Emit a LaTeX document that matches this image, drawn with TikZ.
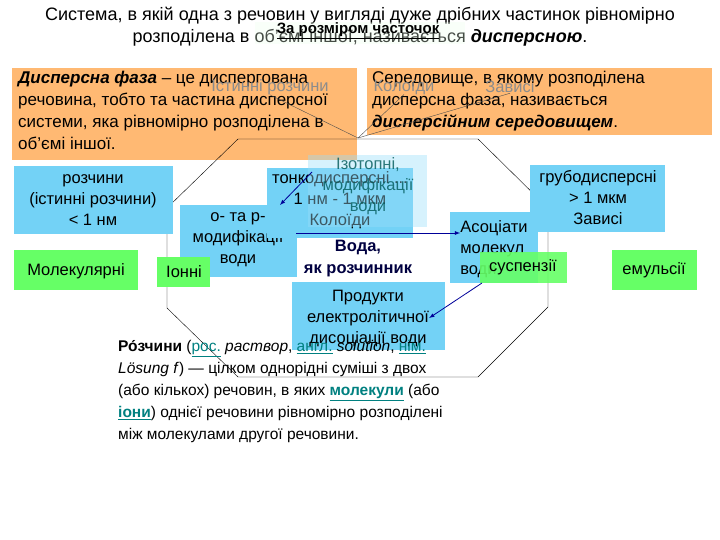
\documentclass[tikz,border=0pt]{standalone}
\usepackage{fontspec}
\setmainfont{Liberation Sans}
\begin{document}
\begin{tikzpicture}[x=1pt,y=-1pt,
  cyanbox/.style={fill=cyan!55!white, inner sep=0pt, draw=none},
  greenbox/.style={fill=green!60!white, inner sep=0pt, draw=none},
  txt/.style={font=\fontsize{16.5}{21}\selectfont, align=center, inner sep=0pt},
  arr/.style={-latex, draw=blue!60!black, thick},
  lnk/.style={draw=black!70, thin}]
\useasboundingbox (0,0) rectangle (720,540);
% title
\node[txt, font=\fontsize{18}{22}\selectfont] (t1) at (360,16) {Система, в якій одна з речовин у вигляді дуже дрібних частинок рівномірно};
\node[txt, font=\fontsize{18}{22}\selectfont] (t2) at (360,38) {розподілена в об'ємі іншої, називається \textbf{\textit{дисперсною}}.};
\fill[green!8, opacity=0.3] (255,22) rectangle (465,44);
\node[txt, font=\bfseries\fontsize{15}{16}\selectfont] (zr) at (358,31) {\underline{За розміром часточок}};
% orange boxes
\fill[orange!55!white] (12,68) rectangle (357,160);
\fill[orange!55!white] (367,68) rectangle (712,135);
\node[txt, anchor=north west, align=left, font=\fontsize{17}{22}\selectfont] (df) at (18,71) {\textbf{\textit{Дисперсна фаза}} – це диспергована\\речовина, тобто та частина дисперсної\\системи, яка рівномірно розподілена в\\об'ємі іншої.};
\node[txt, anchor=north west, align=left, font=\fontsize{17}{22}\selectfont] (ds) at (372,71) {Середовище, в якому розподілена\\дисперсна фаза, називається\\\textbf{\textit{дисперсійним середовищем}}.};
% faded labels
\node[txt, text=black!45] (ir) at (270,87) {Істинні розчини};
\node[txt, text=black!45] (kl) at (404,87) {Колоїди};
\node[txt, text=black!45] (zv) at (510,87) {Зависі};
\coordinate (hub) at (358,138);
\draw[lnk] (ir.south) -- (hub);
\draw[lnk] (kl.south) -- (hub);
\draw[lnk] (zv.south) -- (hub);
% octagon
\draw[black, thin] (238,139) -- (478,139) -- (548,208) -- (548,307) -- (478,377) -- (238,377) -- (167,308) -- (167,208) -- cycle;
% boxes
\fill[cyanbox] (14,166) rectangle (173,234);
\node[txt] (rs) at (93,200) {розчини\\(істинні розчини)\\< 1 нм};
\fill[cyanbox] (530,165) rectangle (665,232);
\node[txt] (gr) at (598,198) {грубодисперсні\\> 1 мкм\\Зависі};
\fill[greenbox] (14,250) rectangle (138,290);
\node[txt] (ml) at (76,271) {Молекулярні};
\fill[greenbox] (612,250) rectangle (697,290);
\node[txt] (em) at (654,270) {емульсії};
\fill[cyanbox] (180,205) rectangle (297,277);
\node[txt] (op) at (238,240) {о- та р-\\модифікації\\води};
\fill[greenbox] (157,257) rectangle (210,287);
\node[txt] (io) at (184,272) {Іонні};
\fill[cyanbox] (267,168) rectangle (413,238);
\node[txt] (tk) at (340,200) {тонкодисперсні ...\\1 нм - 1 мкм\\Колоїди};
\fill[cyan!40!white, opacity=0.4] (308,155) rectangle (427,227);
\node[txt, text=teal!70!black, opacity=0.8] (iz) at (368,186) {Ізотопні,\\модифікації\\води};
\fill[cyanbox] (450,212) rectangle (538,283);
\node[txt, align=left] (as) at (494,249) {Асоціати\\молекул\\води};
\fill[greenbox, opacity=0.9] (480,252) rectangle (567,283);
\node[txt] (su) at (523,267) {суспензії};
\fill[cyanbox] (292,282) rectangle (445,350);
\node[txt] (pr) at (368,318) {Продукти\\електролітичної\\дисоціації води};
\node[txt, font=\bfseries\fontsize{16.5}{22}\selectfont, text=blue!25!black] (vd) at (358,259) {Вода,\\як розчинник};
% arrows
\coordinate (a1) at (312,172);
\draw[arr] (a1) -- (280,205);
\coordinate (a2) at (296,233);
\draw[arr] (a2) -- (as.west |- a2);
\coordinate (a3) at (482,283);
\draw[arr] (a3) -- (pr.east);
% paragraph
\node[txt, anchor=north west, align=left, font=\fontsize{15.5}{22}\selectfont] (par) at (118,340) {\textbf{Ро́зчини} ({\color{teal}\underline{рос.}} \textit{раствор}, {\color{teal}\underline{англ.}} \textit{solution}, {\color{teal}\underline{нім.}}\\\textit{Lösung f}) — цілком однорідні суміші з двох\\(або кількох) речовин, в яких {\color{teal}\textbf{\underline{молекули}}} (або\\{\color{teal}\textbf{\underline{іони}}}) однієї речовини рівномірно розподілені\\між молекулами другої речовини.};
\end{tikzpicture}
\end{document}
